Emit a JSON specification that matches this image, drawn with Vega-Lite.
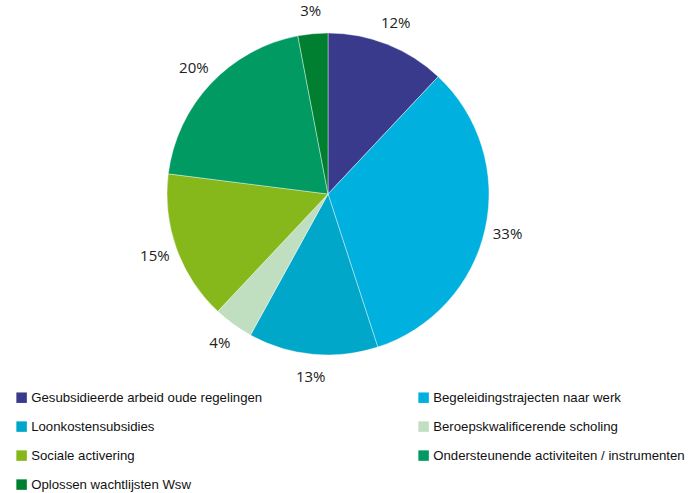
{
  "$schema": "https://vega.github.io/schema/vega-lite/v6.json",
  "autosize": "none",
  "padding": {"left": 0, "top": 0, "right": 35, "bottom": 105},
  "width": 656,
  "height": 388,
  "background": "white",
  "data": {
    "values": [
      {"cat": "Gesubsidieerde arbeid oude regelingen", "pct": 0.12, "ord": 1},
      {"cat": "Begeleidingstrajecten naar werk", "pct": 0.33, "ord": 2},
      {"cat": "Loonkostensubsidies", "pct": 0.13, "ord": 3},
      {"cat": "Beroepskwalificerende scholing", "pct": 0.04, "ord": 4},
      {"cat": "Sociale activering", "pct": 0.15, "ord": 5},
      {"cat": "Ondersteunende activiteiten / instrumenten", "pct": 0.20, "ord": 6},
      {"cat": "Oplossen wachtlijsten Wsw", "pct": 0.03, "ord": 7}
    ]
  },
  "encoding": {
    "theta": {"field": "pct", "type": "quantitative", "stack": true},
    "order": {"field": "ord", "type": "quantitative"}
  },
  "layer": [
    {
      "mark": {"type": "arc", "outerRadius": 161, "stroke": "white", "strokeWidth": 0.4},
      "encoding": {
        "color": {
          "field": "cat",
          "type": "nominal",
          "sort": null,
          "scale": {
            "domain": [
              "Gesubsidieerde arbeid oude regelingen",
              "Begeleidingstrajecten naar werk",
              "Loonkostensubsidies",
              "Beroepskwalificerende scholing",
              "Sociale activering",
              "Ondersteunende activiteiten / instrumenten",
              "Oplossen wachtlijsten Wsw"
            ],
            "range": ["#3a3a8c", "#00b0df", "#00a7c8", "#c0dfc0", "#86b81b", "#009a62", "#007f30"]
          },
          "legend": {
            "title": null,
            "orient": "none",
            "legendX": 15,
            "legendY": 391,
            "columns": 2,
            "direction": "horizontal",
            "symbolType": "square",
            "symbolSize": 110,
            "symbolStrokeWidth": 0,
            "labelFont": "Liberation Sans",
            "labelFontSize": 13.2,
            "labelColor": "#111111",
            "labelLimit": 400,
            "labelOffset": 3,
            "rowPadding": 15,
            "columnPadding": 154
          }
        }
      }
    },
    {
      "mark": {"type": "text", "radius": 184, "fontSize": 15, "font": "Open Sans", "color": "#222222"},
      "encoding": {
        "text": {"field": "pct", "type": "quantitative", "format": ".0%"},
        "detail": {"field": "cat"}
      }
    }
  ]
}
